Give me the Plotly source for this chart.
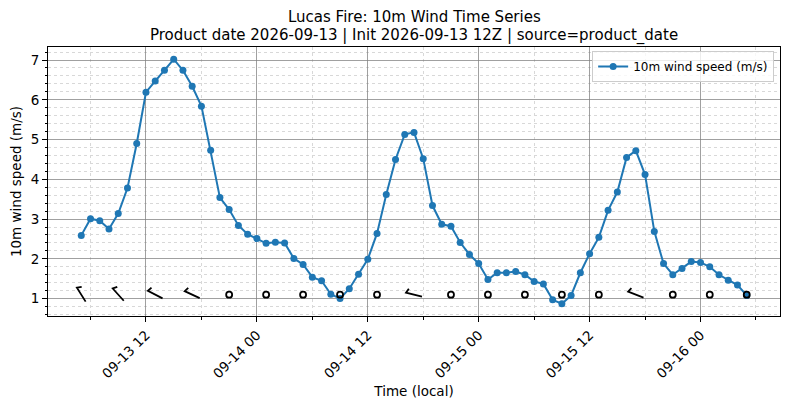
import numpy as np
import pandas as pd
import plotly.graph_objects as go

# hourly 10m wind speed (m/s), local time
times = pd.date_range("2026-09-13 05:00", periods=73, freq="h")
wind_speed = [
    2.59, 3.01, 2.96, 2.75, 3.14, 3.78, 4.90, 6.19, 6.47, 6.74, 7.02, 6.74,
    6.34, 5.84, 4.73, 3.54, 3.24, 2.84, 2.62, 2.51, 2.39, 2.42, 2.40, 2.01,
    1.86, 1.54, 1.45, 1.11, 1.00, 1.25, 1.61, 1.99, 2.64, 3.62, 4.50, 5.13,
    5.18, 4.52, 3.34, 2.87, 2.82, 2.41, 2.11, 1.88, 1.48, 1.65, 1.65, 1.68,
    1.60, 1.43, 1.37, 0.97, 0.87, 1.08, 1.65, 2.13, 2.54, 3.22, 3.68, 4.55,
    4.72, 4.12, 2.69, 1.88, 1.60, 1.76, 1.93, 1.91, 1.80, 1.60, 1.46, 1.34,
    1.08,
]

# wind barbs every 4 h: direction wind comes from (deg), None = calm
barb_step = 4
barb_dir = [328, 318, 297, 295, None, None, None, None, None, 284,
            None, None, None, None, None, 291, None, None, None]
barb_level = 1.1

title_lines = ["Lucas Fire: 10m Wind Time Series",
               "Product date 2026-09-13 | Init 2026-09-13 12Z | source=product_date"]

# page body has an 8px margin, so the figure is a bit smaller than the window
W, H = 782, 401
ml, mr, mt, mb = 40, 10, 39, 93
font = "DejaVu Sans"

# axis ranges with 5% padding like matplotlib
t0, t1 = times[0], times[-1]
span = t1 - t0
xr = [t0 - 0.05 * span, t1 + 0.05 * span]
ymin, ymax = min(wind_speed), max(wind_speed)
yr = [ymin - 0.05 * (ymax - ymin), ymax + 0.05 * (ymax - ymin)]

px_per_hour = (W - ml - mr) / ((xr[1] - xr[0]) / pd.Timedelta(hours=1))
px_per_unit = (H - mt - mb) / (yr[1] - yr[0])


def to_data(t, y, dx_px, dy_px):
    # pixel offset (x right, y up) -> data coords
    return t + pd.Timedelta(hours=dx_px / px_per_hour), y + dy_px / px_per_unit


barb_times = times[::barb_step]
seg_x, seg_y, calm_x, calm_y = [], [], [], []
shaft = 16.5
tick_len = 4.5
slant = 0.4
for t, d in zip(barb_times, barb_dir):
    if d is None:
        calm_x.append(t)
        calm_y.append(barb_level)
        continue
    th = np.radians(d)
    ux, uy = np.sin(th), np.cos(th)      # toward feather end
    px_, py_ = uy, -ux                   # perpendicular (clockwise)
    a = to_data(t, barb_level, -ux * shaft / 2, -uy * shaft / 2)
    b = to_data(t, barb_level, ux * shaft / 2, uy * shaft / 2)
    c = to_data(t, barb_level,
                ux * shaft / 2 + tick_len * (px_ - slant * ux),
                uy * shaft / 2 + tick_len * (py_ - slant * uy))
    seg_x += [a[0], b[0], c[0], None]
    seg_y += [a[1], b[1], c[1], None]

fig = go.Figure()
fig.add_trace(go.Scatter(
    x=times, y=wind_speed, mode="lines+markers", name="10m wind speed (m/s)",
    line=dict(color="#1f77b4", width=2), marker=dict(size=7, color="#1f77b4"),
))
fig.add_trace(go.Scatter(
    x=seg_x, y=seg_y, mode="lines", line=dict(color="black", width=1.8),
    showlegend=False, hoverinfo="skip",
))
fig.add_trace(go.Scatter(
    x=calm_x, y=calm_y, mode="markers", showlegend=False, hoverinfo="skip",
    marker=dict(symbol="circle-open", size=6, color="black", line=dict(width=1.8)),
))

axis_common = dict(
    showline=True, linecolor="black", linewidth=1, mirror=True,
    ticks="outside", ticklen=5, tickcolor="black", tickwidth=1,
    showgrid=True, gridcolor="rgba(128,128,128,0.75)", gridwidth=1,
    zeroline=False, automargin=False,
    tickfont=dict(family=font, size=13.5, color="black"),
)
fig.update_xaxes(
    **axis_common, type="date", range=xr,
    tick0="2026-09-13 00:00", dtick=12 * 3600 * 1000, tickformat="%m-%d %H",
    tickangle=-45,
    minor=dict(dtick=6 * 3600 * 1000, ticks="outside", ticklen=2.5,
               tickcolor="black", showgrid=True, gridcolor="#d8d8d8",
               griddash="dot", gridwidth=0.8),
    title=dict(text="Time (local)", font=dict(family=font, size=13.5, color="black"),
               standoff=6),
)
fig.update_yaxes(
    **axis_common, range=yr, dtick=1,
    minor=dict(dtick=0.2, ticks="outside", ticklen=2.5, tickcolor="black",
               showgrid=True, gridcolor="#d8d8d8", griddash="dot", gridwidth=0.8),
    title=dict(text="10m wind speed (m/s)",
               font=dict(family=font, size=13.5, color="black"), standoff=6),
)
fig.update_layout(
    width=W, height=H, margin=dict(l=ml, r=mr, t=mt, b=mb, autoexpand=False),
    plot_bgcolor="white", paper_bgcolor="white",
    legend=dict(x=0.992, y=0.985, xanchor="right", yanchor="top",
                bgcolor="rgba(255,255,255,0.8)", bordercolor="#cccccc",
                borderwidth=1, font=dict(family=font, size=12, color="black"),
                itemwidth=30, tracegroupgap=0),
    font=dict(family=font),
)
# two title lines, centred over the axes
for line, shift in zip(title_lines, [20, 1]):
    fig.add_annotation(
        text=line, xref="paper", yref="paper", x=0.5, y=1,
        xanchor="center", yanchor="bottom", yshift=shift, showarrow=False,
        borderpad=0, font=dict(family=font, size=15, color="black"),
    )

fig.write_html("out.html")
